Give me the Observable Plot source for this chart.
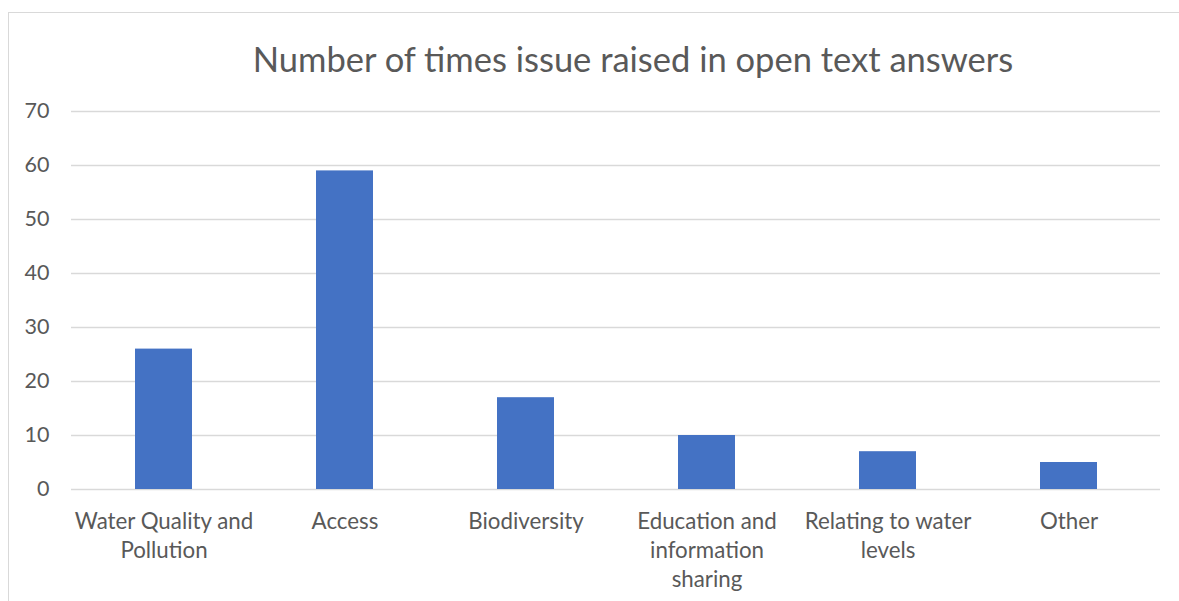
<!DOCTYPE html>
<html>
<head>
<meta charset="utf-8">
<script src="https://cdn.jsdelivr.net/npm/d3@7"></script>
<script src="https://cdn.jsdelivr.net/npm/@observablehq/plot@0.6"></script>
<style>
  html, body { margin: 0; padding: 0; background: #fff; overflow: hidden; width: 1179px; height: 601px; }
  #frame { position: absolute; left: 7.5px; top: 11.5px; width: 1300px; height: 700px; border: 1px solid #d9d9d9; box-sizing: border-box; }
  #title { position: absolute; left: 0; width: 1266px; top: 38.5px; text-align: center; font-family: Lato, sans-serif; font-size: 34.5px; color: #595959; white-space: nowrap; line-height: 40px; }
  #chart { position: absolute; left: 0; top: 0; }
</style>
</head>
<body>
<div id="frame"></div>
<div id="title">Number of times issue raised in open text answers</div>
<div id="chart"></div>
<script>
const categories = ["Water Quality and\nPollution", "Access", "Biodiversity", "Education and\ninformation\nsharing", "Relating to water\nlevels", "Other"];
const counts = [26, 59, 17, 10, 7, 5];
const yTicks = [0, 10, 20, 30, 40, 50, 60, 70];

const data = categories.map((c, i) => ({category: c, count: counts[i]}));

const chart = Plot.plot({
  width: 1179,
  height: 601,
  marginLeft: 71,
  marginRight: 19,
  marginTop: 111,
  marginBottom: 112,
  style: {background: "transparent", fontFamily: "Lato, sans-serif", fontSize: "22px", color: "#595959"},
  x: {domain: categories, paddingInner: 0.686, paddingOuter: 0.343, label: null},
  y: {domain: [0, 70], label: null},
  marks: [
    Plot.ruleY(yTicks, {stroke: "#d9d9d9", strokeWidth: 1.3}),
    Plot.barY(data, {x: "category", y: "count", fill: "#4472C4"}),
    Plot.axisY({ticks: yTicks, tickSize: 0, tickPadding: 22, label: null, fill: "#595959", fontSize: 21.5}),
    Plot.axisX({tickSize: 0, tickPadding: 18.5, label: null, fill: "#595959", fontSize: 22.3, lineHeight: 1.31, textOverflow: null, lineWidth: Infinity})
  ]
});
document.getElementById("chart").appendChild(chart);
</script>
</body>
</html>
